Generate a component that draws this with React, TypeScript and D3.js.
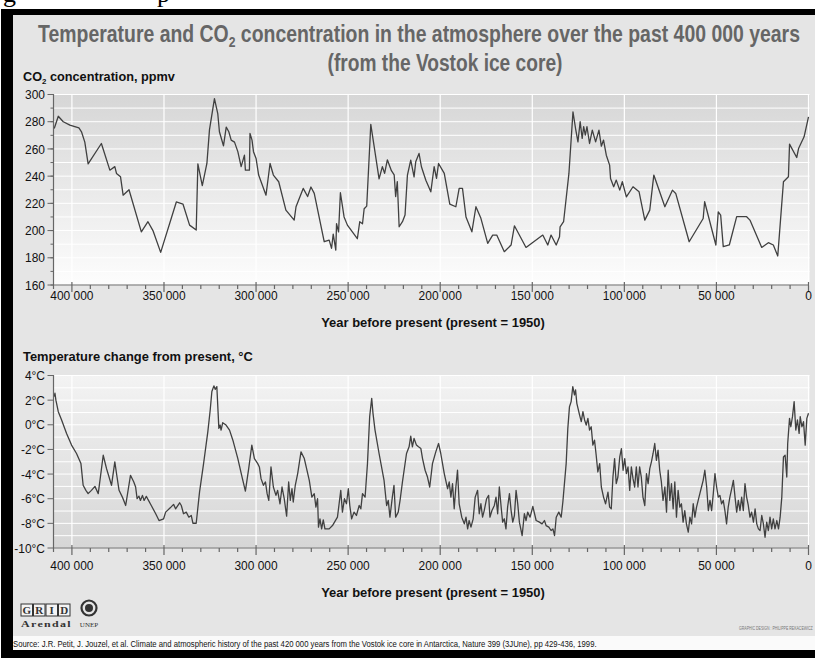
import React, { useLayoutEffect, useRef, useState } from "react";
import * as d3 from "d3";

// ---------- DATA ----------
const co2Year = [409600,407400,404700,401100,396200,394800,393000,391200,384000,379400,376700,375800,373600,372200,369000,362300,358700,356000,351800,343300,339700,336100,332500,331600,329200,326700,325300,322600,320800,319900,317700,316200,314800,313500,311700,309900,308100,306300,305800,303600,303300,302200,301400,300000,298600,294600,292400,290600,287700,283800,279300,278300,274400,272000,270200,268400,263000,260300,259000,258100,256700,256300,255200,254200,252200,250400,245000,243700,242200,241300,239900,237700,235900,233200,231400,230200,228700,226500,225000,224200,223300,222300,220500,219100,217800,216000,214200,213300,211500,210200,207800,205100,203300,202000,200900,197800,194800,191500,189700,187900,186000,182800,180600,177900,174200,171500,169300,165200,161500,159700,153400,144300,141600,139800,137000,135200,134900,133000,130100,127900,126500,125200,124000,122900,122100,121200,120300,118900,117400,115600,113800,112500,111300,109800,108000,107500,105800,104400,102500,101100,98900,95300,92000,88900,86200,84000,78000,73900,72100,64800,57200,56400,50300,49000,47700,46300,43000,39000,33600,31800,25400,21800,19100,16700,13600,10900,10300,6400,5400,2400,0];
const co2Ppmv = [275,284,280,277.5,275.5,272.6,265,249,264,244.4,247,242,239.5,226,230,199,206.5,200,184,221,219.5,204,200.4,249,233,249.3,274,297,286,272.6,262.3,276,272.6,266.5,265,258,247,255.4,244.4,244.4,271.4,266.5,258,253,240.8,226,249.3,240.8,235.9,215,207.7,217.5,231,225,232,227.3,191.8,193,187,197.4,185.7,205,199,227.8,210,204,194,206.5,205,216,218,278,262,238,247,242,252,244,241,225,236,202.8,206.5,211.4,240.8,251.8,239.5,250.5,256.7,246.9,237,228.5,246.9,238.3,249.3,242,219.5,217.5,231,231,210,199.1,217.5,209,190.6,196.7,196.7,184.5,189.4,203.5,187.6,196.7,189.4,196.7,189.4,195.5,202.8,206.5,242,287.3,275,265.2,280,267.7,276.3,270.1,276.3,264,273.8,265.2,273.8,262,266.5,255.4,248.1,238.3,232.2,237.1,229.7,235.9,224.8,232.2,228.5,207.7,215,240.8,217.5,229.7,227.3,191.8,208.9,221.2,189.4,213.8,211.4,188.2,189.4,210.2,210.2,207.7,187.6,191.1,189.4,181.3,235.9,239.5,263.5,253.7,260.3,268.9,283.6];

const tempYear = [409600,409200,408700,407400,405600,402900,400200,397500,395100,393900,392400,391200,389400,387500,385700,383000,381200,378500,376700,375500,374400,372600,370800,368200,366400,365400,364600,363600,362800,361700,360800,359600,356900,354500,352700,350200,349100,346600,344800,343700,341500,340600,339400,337900,336500,335200,334300,332500,330700,328500,326200,324900,324000,322900,322200,321300,320200,319500,319000,318100,316300,314400,312600,309900,307600,305800,304000,302300,300900,299100,298200,297300,296000,294900,294000,293100,291900,290600,289200,288300,287000,285900,284700,283400,282300,281400,280500,279800,278700,277400,275600,273800,271100,269700,268400,267500,266600,266100,265300,264400,263500,262600,260300,258500,255800,254000,253100,252000,250900,249900,249100,248100,246800,245500,244000,243100,242200,240800,240400,239500,238300,237200,236500,235400,233200,230500,229100,228200,227300,226000,225100,224200,222800,221800,220500,218300,216900,216000,215100,214200,212900,211800,210500,209600,208200,206900,205700,204200,202400,200900,199700,197800,196000,195100,194200,193300,192400,191500,190600,189700,188300,186900,186000,185100,184300,183300,182100,181000,179700,178800,177900,177000,176100,174800,173700,173000,171900,170600,169700,168800,167900,166900,166100,165200,164300,163400,162400,161500,160600,159700,158800,157900,157000,155500,154300,153400,152500,151200,149700,147900,146100,144700,143400,142500,141000,139800,138800,137900,137000,135600,134300,133400,131600,130700,129800,128900,128000,127100,126500,125800,124300,123400,122500,121600,120700,119800,118900,118000,117100,116200,115300,114400,113400,112500,111300,110200,108900,108000,107100,106200,105300,104400,103500,102500,101600,100700,99800,98900,98000,97100,96200,95300,94400,93500,92600,91700,90800,89900,88900,88000,87100,86200,85300,84400,83500,82600,81700,80800,79900,79000,78000,77100,76200,75300,74400,73500,72600,71700,70800,69900,69000,68100,67200,66300,65300,64400,63500,62600,61700,60800,59900,59000,58100,57200,56300,55300,54400,53500,52600,51700,50800,49900,49000,48100,47200,46300,45400,44500,43600,42700,41700,40800,39900,39000,38100,37200,36300,35400,34500,33600,32700,31800,30900,29900,29000,28100,27200,26300,25400,24500,23600,22700,21800,20900,20000,19100,18200,17200,16300,15400,14500,13600,12700,11800,11300,10300,9600,8700,7800,6900,6000,5100,4500,3600,2700,1800,900,0];
const tempDelta = [2.29,2.56,2.0,1.06,0.39,-0.7,-1.65,-2.33,-3.15,-4.91,-5.32,-5.59,-5.32,-5.0,-5.59,-2.47,-3.56,-4.91,-3.01,-4.24,-5.32,-5.87,-6.55,-4.1,-4.64,-5.05,-6.0,-5.79,-6.14,-5.73,-6.14,-5.81,-6.55,-7.22,-7.77,-7.63,-7.09,-6.74,-6.46,-6.82,-6.33,-6.55,-7.22,-7.09,-7.5,-7.36,-7.99,-7.99,-5.46,-3.15,-0.57,1.2,2.7,3.16,2.88,3.1,-0.29,-0.02,-0.43,0.17,-0.02,-0.43,-1.25,-2.74,-4.24,-5.38,-3.56,-1.65,-2.74,-3.15,-3.42,-4.37,-4.91,-4.64,-5.59,-6.14,-3.42,-5.05,-5.73,-5.32,-6.41,-5.05,-6.0,-7.42,-4.64,-6.14,-5.19,-6.27,-4.91,-3.96,-2.2,-2.74,-4.51,-5.87,-5.59,-6.68,-6.0,-8.31,-7.63,-8.45,-7.71,-8.45,-8.45,-8.18,-7.5,-5.32,-7.09,-6.0,-6.41,-5.19,-6.55,-7.63,-7.09,-7.36,-6.55,-6.82,-5.59,-5.87,-5.05,-3.15,0.66,2.15,0.93,-0.43,-2.33,-4.51,-6.55,-6.14,-7.5,-5.87,-4.91,-7.5,-7.09,-6.14,-4.64,-2.33,-1.79,-0.92,-1.79,-1.11,-1.65,-1.79,-1.93,-2.74,-3.69,-4.24,-5.05,-3.15,-2.2,-1.52,-2.33,-3.96,-5.19,-4.64,-5.87,-4.78,-6.82,-5.05,-3.69,-6.41,-7.5,-8.04,-7.5,-8.45,-7.77,-8.31,-7.63,-5.87,-5.32,-7.22,-6.41,-7.5,-6.96,-6.0,-5.73,-7.5,-6.96,-6.55,-5.87,-7.22,-5.05,-6.68,-7.9,-7.63,-8.45,-6.68,-5.59,-6.96,-7.9,-7.36,-5.32,-6.41,-7.9,-8.99,-7.22,-7.77,-7.09,-7.5,-6.63,-7.77,-7.9,-8.04,-7.77,-8.18,-8.31,-8.58,-8.45,-8.99,-7.5,-7.09,-7.5,-6.27,-3.15,-0.29,1.47,1.88,3.1,2.42,2.83,1.74,0.79,0.25,1.06,0.39,-0.02,0.52,-0.43,-0.16,-1.65,-1.25,-2.47,-3.83,-3.15,-5.05,-5.87,-6.41,-5.46,-6.68,-6.82,-4.24,-2.74,-4.78,-4.24,-2.61,-1.93,-3.69,-2.74,-3.96,-3.42,-5.32,-3.42,-4.37,-5.05,-3.42,-5.05,-3.42,-4.24,-5.87,-6.55,-3.96,-4.78,-3.56,-3.01,-2.33,-1.52,-2.88,-2.06,-3.69,-4.64,-6.14,-5.05,-7.09,-3.69,-6.14,-4.78,-6.82,-4.64,-7.5,-5.32,-6.68,-6.41,-7.9,-6.96,-8.04,-8.72,-7.5,-8.04,-6.41,-7.5,-6.68,-6.14,-5.59,-5.05,-4.51,-3.69,-5.05,-6.96,-6.14,-6.96,-5.59,-3.96,-5.05,-5.87,-5.73,-6.41,-6.14,-6.96,-8.04,-6.68,-5.87,-5.19,-4.51,-5.87,-7.09,-6.14,-6.96,-5.87,-6.96,-4.78,-5.87,-6.55,-7.5,-7.09,-7.9,-6.82,-8.04,-8.45,-8.58,-7.36,-8.04,-9.13,-7.9,-8.58,-7.5,-8.45,-7.63,-8.45,-7.77,-8.45,-7.5,-5.87,-2.61,-2.47,-4.24,-1.52,0.52,-0.16,0.66,1.88,-0.43,0.39,-0.7,0.66,-0.16,0.25,-1.65,0.52,0.93];

const yearTicks = [400000, 350000, 300000, 250000, 200000, 150000, 100000, 50000, 0];
const co2Ticks = [160, 180, 200, 220, 240, 260, 280, 300];
const tempTicks = [-10, -8, -6, -4, -2, 0, 2, 4];

const titleLine1 = "Temperature and CO";
const titleLine1b = " concentration in the atmosphere over the past 400 000 years";
const titleLine2 = "(from the Vostok ice core)";
const xAxisTitle = "Year before present (present = 1950)";
const sourceText =
  "Source: J.R. Petit, J. Jouzel, et al. Climate and atmospheric history of the past 420 000 years from the Vostok ice core in Antarctica, Nature 399 (3JUne), pp 429-436, 1999.";

// ---------- HELPERS ----------
const SANS = "'Liberation Sans', Arial, Helvetica, sans-serif";
const SERIF = "'Liberation Serif', 'DejaVu Serif', serif";

function FitText(props: any) {
  const { x, y, width, anchor = "start", children, ...rest } = props;
  const ref = useRef<SVGTextElement>(null);
  const [s, setS] = useState(1);
  useLayoutEffect(() => {
    if (ref.current) {
      const w = ref.current.getComputedTextLength();
      if (w > 0) setS(width / w);
    }
  }, [width]);
  return (
    <text ref={ref} transform={`translate(${x},${y}) scale(${s},1)`} textAnchor={anchor} {...rest}>
      {children}
    </text>
  );
}

const fmtYear = (v: number) => d3.format(",")(v).replace(/,/g, " ");

const X0 = 53.5;
const X1 = 808.5;
const xScale = d3.scaleLinear().domain([410000, 0]).range([X0, X1]);
const minorYears = d3.range(0, 410001, 10000);

function Panel(props: any) {
  const { yScale, top, bottom, years, values, ticks, minorGrid, minorTicks, fmt, gradId, labelBase } = props;
  const line = d3
    .line<number>()
    .x((_, i) => xScale(years[i]))
    .y((v) => yScale(v))
    .curve(d3.curveLinear);
  return (
    <g>
      <rect x={X0} y={top} width={809.5 - X0} height={bottom - top} fill={`url(#${gradId})`} />
      {minorGrid.map((v: number) => (
        <line key={"h" + v} x1={X0} x2={809.5} y1={yScale(v)} y2={yScale(v)} stroke="#ffffff" strokeWidth={1} />
      ))}
      {yearTicks.map((v) => (
        <line key={"v" + v} x1={xScale(v)} x2={xScale(v)} y1={top} y2={bottom} stroke="#ffffff" strokeWidth={1.2} />
      ))}
      <path d={line(values) || ""} fill="none" stroke="#404040" strokeWidth={1.3} strokeLinejoin="round" />
      {/* y axis */}
      <line x1={X0} x2={X0} y1={top - 0.5} y2={bottom} stroke="#666" strokeWidth={1.2} />
      {minorTicks.map((v: number) => (
        <line key={"mt" + v} x1={X0 - 3} x2={X0} y1={yScale(v)} y2={yScale(v)} stroke="#666" strokeWidth={1} />
      ))}
      {ticks.map((v: number) => (
        <g key={"yt" + v}>
          <line x1={X0 - 6} x2={X0} y1={yScale(v)} y2={yScale(v)} stroke="#666" strokeWidth={1} />
          <text
            transform={`translate(45,${yScale(v) + 4.6}) scale(0.92,1)`}
            textAnchor="end"
            fontFamily={SANS}
            fontSize={13}
            fill="#111"
          >
            {fmt(v)}
          </text>
        </g>
      ))}
      {/* x axis */}
      <line x1={X0} x2={X1} y1={bottom} y2={bottom} stroke="#666" strokeWidth={1.2} />
      {minorYears.map((v) => {
        const major = v % 50000 === 0;
        return (
          <line
            key={"xt" + v}
            x1={xScale(v)}
            x2={xScale(v)}
            y1={major ? bottom - 3 : bottom}
            y2={major ? bottom + 7 : bottom + 4}
            stroke="#666"
            strokeWidth={1.2}
          />
        );
      })}
      {yearTicks.map((v) => (
        <text
          key={"xl" + v}
          transform={`translate(${xScale(v)},${labelBase}) scale(0.92,1)`}
          textAnchor="middle"
          fontFamily={SANS}
          fontSize={13}
          fill="#111"
        >
          {fmtYear(v)}
        </text>
      ))}
      <FitText x={433} y={labelBase + 27} width={224} anchor="middle" fontFamily={SANS} fontSize={13} fontWeight="bold" fill="#111">
        {xAxisTitle}
      </FitText>
    </g>
  );
}

export default function App() {
  const yC = d3.scaleLinear().domain([160, 300]).range([285, 94.5]);
  const yT = d3.scaleLinear().domain([-10, 4]).range([548, 375.5]);
  const co2Minor = d3.range(160, 301, 10);
  const tempMinor = d3.range(-10, 5, 1);

  return (
    <div style={{ position: "absolute", left: 0, top: 0 }}>
      <svg width={815} height={658} style={{ display: "block" }}>
        <defs>
          <linearGradient id="gTop" x1="0" y1="0" x2="0" y2="1">
            <stop offset="0" stopColor="#d6d6d6" />
            <stop offset="1" stopColor="#fdfdfd" />
          </linearGradient>
          <linearGradient id="gBot" x1="0" y1="0" x2="0" y2="1">
            <stop offset="0" stopColor="#f3f3f3" />
            <stop offset="1" stopColor="#d6d6d6" />
          </linearGradient>
          <clipPath id="panelClip">
            <rect x={13} y={15} width={802} height={621} />
          </clipPath>
        </defs>
        <rect x={0} y={0} width={815} height={658} fill="#ffffff" />
        {/* cropped caption descenders above the frame */}
        <text x={3} y={2} fontFamily={SERIF} fontSize={26} fill="#000">g</text>
        <text x={157} y={2} fontFamily={SERIF} fontSize={26} fill="#000">p</text>
        <rect x={1} y={9} width={814} height={649} fill="#000" />
        <rect x={13} y={15} width={802} height={621} fill="#e5e5e5" />
        <rect x={13} y={636} width={802} height={14} fill="#fafafa" />

        <g clipPath="url(#panelClip)">
          {/* title */}
          <FitText x={419} y={42} width={762} anchor="middle" fontFamily={SANS} fontSize={24} fontWeight="bold" fill="#666">
            {titleLine1}
            <tspan fontSize={15} dy={5}>2</tspan>
            <tspan dy={-5}>{titleLine1b}</tspan>
          </FitText>
          <FitText x={445} y={71} width={235} anchor="middle" fontFamily={SANS} fontSize={24} fontWeight="bold" fill="#666">
            {titleLine2}
          </FitText>

          <FitText x={23} y={81} width={152} fontFamily={SANS} fontSize={13} fontWeight="bold" fill="#111">
            CO<tspan fontSize={8} dy={3}>2</tspan>
            <tspan dy={-3}> concentration, ppmv</tspan>
          </FitText>
          <Panel
            yScale={yC}
            top={94.5}
            bottom={285}
            years={co2Year}
            values={co2Ppmv}
            ticks={co2Ticks}
            minorGrid={co2Minor}
            minorTicks={co2Minor}
            fmt={(v: number) => String(v)}
            gradId="gTop"
            labelBase={300}
          />

          <FitText x={23} y={361} width={230} fontFamily={SANS} fontSize={13} fontWeight="bold" fill="#111">
            Temperature change from present, °C
          </FitText>
          <Panel
            yScale={yT}
            top={375.5}
            bottom={548}
            years={tempYear}
            values={tempDelta}
            ticks={tempTicks}
            minorGrid={tempMinor}
            minorTicks={[]}
            fmt={(v: number) => `${v}°C`}
            gradId="gBot"
            labelBase={570}
          />

          {/* logos */}
          <g fontFamily={SERIF} fontWeight="bold" fill="#333">
            {["G", "R", "I", "D"].map((c, i) => (
              <g key={c}>
                <rect x={21 + i * 12.5} y={604} width={11.5} height={12} fill="#f4f4f4" stroke="#333" strokeWidth={1} />
                <text x={26.75 + i * 12.5} y={614} textAnchor="middle" fontSize={11}>{c}</text>
              </g>
            ))}
            <FitText x={21} y={627} width={51} fontFamily={SERIF} fontSize={9} fontWeight="bold" fill="#333" letterSpacing={1}>
              Arendal
            </FitText>
            <circle cx={89} cy={608} r={7.5} fill="none" stroke="#333" strokeWidth={2.2} />
            <circle cx={89} cy={608} r={4} fill="#333" />
            <text x={89} y={627} textAnchor="middle" fontSize={7} fontWeight="normal">UNEP</text>
          </g>
          <FitText x={739} y={630} width={74} fontFamily={SANS} fontSize={6} fill="#777">
            GRAPHIC DESIGN : PHILIPPE REKACEWICZ
          </FitText>
        </g>
        <FitText x={13} y={646.5} width={585} fontFamily={SANS} fontSize={9} fill="#111">
          {sourceText}
        </FitText>
      </svg>
    </div>
  );
}
